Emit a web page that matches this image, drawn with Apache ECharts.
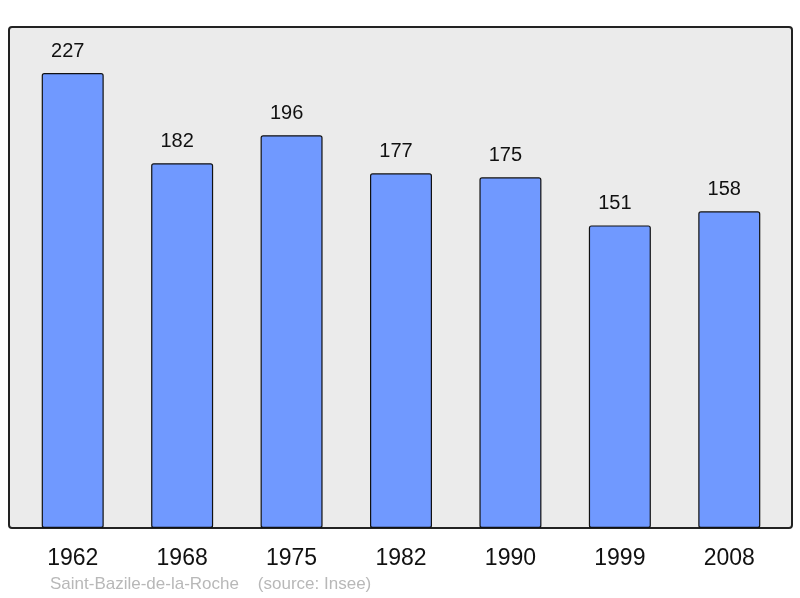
<!DOCTYPE html>
<html><head><meta charset="utf-8">
<script src="https://cdn.jsdelivr.net/npm/echarts@6/dist/echarts.min.js"></script>
<style>html,body{margin:0;padding:0;background:#fff}#c{width:800px;height:598px}</style>
</head><body><div id="c"></div>
<script>
const years = ['1962','1968','1975','1982','1990','1999','2008'];
const population = [227,182,196,177,175,151,158];
const footerText = 'Saint-Bazile-de-la-Roche    (source: Insee)';

const chart = echarts.init(document.getElementById('c'), null, {renderer:'canvas'});
chart.setOption({
  animation:false,
  backgroundColor:'#ffffff',
  graphic:[
    {type:'rect', z:-10, shape:{x:9, y:27, width:783, height:501, r:3},
     style:{fill:'#ebebeb', stroke:'#222', lineWidth:2}},
    {type:'text', left:50, top:576, style:{text:footerText, fill:'#b8b8b8', font:'17px "Liberation Sans", Arial, sans-serif'}}
  ],
  grid:{left:18, right:16, top:27, bottom:70},
  xAxis:{type:'category', data:years, axisLine:{show:false}, axisTick:{show:false},
    axisLabel:{color:'#111', fontSize:23, margin:19, fontFamily:'Liberation Sans, Arial, sans-serif'}},
  yAxis:{type:'value', min:0, max:250, show:false, splitLine:{show:false}},
  series:[{type:'bar', data:population, barWidth:62,
    itemStyle:{color:'#7099ff', borderColor:'#111', borderWidth:1.2, borderRadius:2},
    label:{show:true, position:'top', distance:12, offset:[-5,0], color:'#111', fontSize:20, fontFamily:'Liberation Sans, Arial, sans-serif'}}]
});
</script></body></html>
